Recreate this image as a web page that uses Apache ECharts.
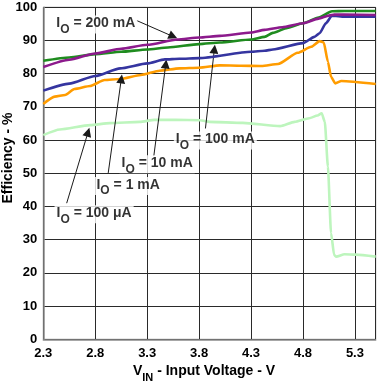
<!DOCTYPE html>
<html><head><meta charset="utf-8">
<script src="https://cdn.jsdelivr.net/npm/echarts@6/dist/echarts.min.js"></script>
<style>html,body{margin:0;padding:0;background:#fff}#c{width:380px;height:387px}</style>
</head><body><div id="c"></div>
<script>
// ---- axis definitions ----
const X_MIN = 2.3, X_MAX = 5.5, X_STEP = 0.5;
const Y_MIN = 0, Y_MAX = 100, Y_STEP = 10;
const xTickLabels = ['2.3', '2.8', '3.3', '3.8', '4.3', '4.8', '5.3'];
const yTickLabels = ['0', '10', '20', '30', '40', '50', '60', '70', '80', '90', '100'];

// ---- series: IO = 200 mA (purple) ----
const vin200 = [2.3, 2.55, 2.8, 3.05, 3.3, 3.59, 3.8, 4.0, 4.3, 4.43, 4.6, 4.8, 4.95, 5.05, 5.1, 5.2, 5.5];
const eff200 = [82.0, 84.2, 86.1, 87.5, 88.7, 90.3, 90.9, 91.4, 92.4, 93.2, 94.0, 95.2, 96.6, 97.5, 97.8, 97.8, 97.7];
// ---- series: IO = 100 mA (green) ----
const vin100 = [2.3, 2.55, 2.8, 3.05, 3.3, 3.5, 3.8, 4.0, 4.3, 4.43, 4.51, 4.65, 4.8, 4.95, 5.08, 5.2, 5.5];
const eff100 = [83.9, 84.9, 85.9, 86.6, 87.3, 87.9, 88.9, 89.4, 90.3, 91.1, 92.3, 93.8, 95.2, 96.9, 98.8, 98.9, 98.9];
// ---- series: IO = 10 mA (blue) ----
const vin10 = [2.3, 2.55, 2.8, 3.04, 3.3, 3.47, 3.61, 3.8, 4.3, 4.43, 4.51, 4.8, 4.91, 4.96, 5.02, 5.08, 5.2, 5.5];
const eff10 = [74.9, 77.0, 79.3, 81.6, 83.1, 84.3, 84.5, 84.7, 86.6, 86.9, 87.3, 89.2, 91.1, 92.2, 95.2, 97.5, 97.2, 97.2];
// ---- series: IO = 1 mA (orange) ----
const vin1 = [2.3, 2.41, 2.51, 2.6, 2.75, 2.89, 3.04, 3.24, 3.42, 3.61, 3.8, 4.0, 4.2, 4.4, 4.56, 4.75, 4.88, 4.96, 5.0, 5.04, 5.07, 5.11, 5.17, 5.5];
const eff1 = [70.9, 73.1, 73.6, 75.4, 76.3, 78.1, 78.4, 79.6, 80.9, 81.6, 81.8, 82.5, 82.4, 82.3, 82.9, 86.3, 88.1, 89.8, 89.4, 83.6, 79.1, 77.1, 77.8, 76.9];
// ---- series: IO = 100 uA (light green) ----
const vin100u = [2.3, 2.46, 2.75, 2.94, 3.23, 3.37, 3.57, 3.81, 3.9, 4.22, 4.58, 4.72, 4.86, 4.94, 4.98, 5.01, 5.04, 5.07, 5.1, 5.12, 5.2, 5.31, 5.5];
const eff100u = [61.5, 63.2, 64.5, 65.1, 65.5, 66.1, 66.1, 66.0, 65.5, 65.2, 64.2, 65.5, 66.6, 67.4, 68.1, 65.5, 52.0, 32.0, 25.4, 24.9, 25.6, 25.5, 24.9];

// ---- annotations ----
const annoCurrents = ['200 mA', '100 mA', '10 mA', '1 mA', '100 μA'];
const annoTextV = [2.806, 3.956, 3.396, 3.117, 2.789];
const annoTextE = [94.8, 59.9, 52.7, 46.2, 37.65];
const arrowFromV = [3.20, 3.861, 3.364, 2.925, 2.525];
const arrowFromE = [96.0, 63.5, 55.2, 50.1, 41.0];
const arrowToV = [3.55, 3.947, 3.479, 3.051, 2.731];
const arrowToE = [91.2, 87.4, 82.9, 78.4, 62.4];

const FONT = '"Liberation Sans", Arial, Helvetica, sans-serif';
// x axis is drawn relative to X_MIN so that ticks fall on 2.3, 2.8, ...
const toX = v => +(v - X_MIN).toFixed(4);
const pts = (xs, ys) => xs.map((x, i) => [toX(x), ys[i]]);

function lineSeries(name, xs, ys, color, z) {
  return {
    name, type: 'line', data: pts(xs, ys), showSymbol: false, symbol: 'none',
    smooth: 0.2, smoothMonotone: 'x', z,
    lineStyle: { color, width: 2.6 }, silent: true, animation: false
  };
}

const richStyles = {
  m: { fontSize: 14, fontWeight: 'bold', fontFamily: FONT, lineHeight: 16, verticalAlign: 'top', color: '#000' },
  s: { fontSize: 12, fontWeight: 'bold', fontFamily: FONT, lineHeight: 12, verticalAlign: 'top', padding: [7, 0, 0, 0], color: '#000' }
};

const annoData = annoCurrents.map((c, i) => ({
  value: [toX(annoTextV[i]), annoTextE[i]],
  label: { formatter: '{m|I}{s|O}{m| = ' + c + '}' }
}));
const arrowData = annoCurrents.map((c, i) => ([
  { coord: [toX(arrowFromV[i]), arrowFromE[i]], symbol: 'none' },
  { coord: [toX(arrowToV[i]), arrowToE[i]], symbol: 'triangle' }
]));

const chart = echarts.init(document.getElementById('c'), null, { renderer: 'canvas' });
chart.setOption({
  animation: false,
  backgroundColor: '#fff',
  grid: { left: 43.3, right: 4.3, top: 7.3, bottom: 47.7, show: true, borderColor: '#8a8a8a', borderWidth: 1, backgroundColor: 'transparent' },
  xAxis: {
    type: 'value', min: 0, max: toX(X_MAX), interval: X_STEP,
    axisLine: { show: true, lineStyle: { color: '#8a8a8a', width: 1.5 } },
    axisTick: { show: false },
    splitLine: { show: true, lineStyle: { color: '#2a2a2a', width: 1 } },
    axisLabel: {
      margin: 8, color: '#000', fontSize: 13, fontWeight: 'bold', fontFamily: FONT,
      formatter: v => { const i = Math.round(v / X_STEP); return Math.abs(v - i * X_STEP) < 1e-6 ? (xTickLabels[i] || '') : ''; }
    }
  },
  yAxis: {
    type: 'value', min: Y_MIN, max: Y_MAX, interval: Y_STEP,
    axisLine: { show: true, lineStyle: { color: '#8a8a8a', width: 1.5 } },
    axisTick: { show: false },
    splitLine: { show: true, lineStyle: { color: '#2a2a2a', width: 1 } },
    axisLabel: {
      margin: 6, color: '#000', fontSize: 13, fontWeight: 'bold', fontFamily: FONT,
      formatter: v => yTickLabels[Math.round(v / Y_STEP)] || ''
    }
  },
  series: [
    lineSeries('IO = 100 µA', vin100u, eff100u, '#bdf5bd', 3),
    lineSeries('IO = 1 mA', vin1, eff1, '#ff9c00', 4),
    lineSeries('IO = 10 mA', vin10, eff10, '#3535a0', 5),
    lineSeries('IO = 100 mA', vin100, eff100, '#1f8c1f', 6),
    lineSeries('IO = 200 mA', vin200, eff200, '#8c1a8c', 7),
    {
      name: 'annotations', type: 'scatter', z: 20, silent: true, animation: false,
      symbol: 'rect', symbolSize: 1, itemStyle: { color: 'rgba(0,0,0,0)' },
      data: annoData,
      label: {
        show: true, position: 'inside', backgroundColor: '#fff', padding: [1, 2],
        rich: richStyles
      },
      markLine: {
        silent: true, animation: false, symbol: ['none', 'triangle'], symbolSize: 9,
        lineStyle: { color: '#1a1a1a', width: 1, type: 'solid' },
        label: { show: false }, emphasis: { disabled: true },
        data: arrowData
      }
    }
  ],
  graphic: [
    {
      type: 'text', x: 8, y: 158, rotation: Math.PI / 2,
      style: { text: 'Efficiency - %', font: 'bold 14px ' + FONT, fill: '#000', align: 'center', verticalAlign: 'middle' }
    },
    {
      type: 'text', x: 204, y: 372,
      style: {
        text: '{m|V}{s|IN}{m| - Input Voltage - V}', fill: '#000', align: 'center', verticalAlign: 'middle',
        rich: {
          m: { fontSize: 14, fontWeight: 'bold', fontFamily: FONT, lineHeight: 16, verticalAlign: 'top', fill: '#000' },
          s: { fontSize: 11, fontWeight: 'bold', fontFamily: FONT, lineHeight: 11, verticalAlign: 'top', padding: [8, 0, 0, 0], fill: '#000' }
        }
      }
    }
  ]
});
</script></body></html>
